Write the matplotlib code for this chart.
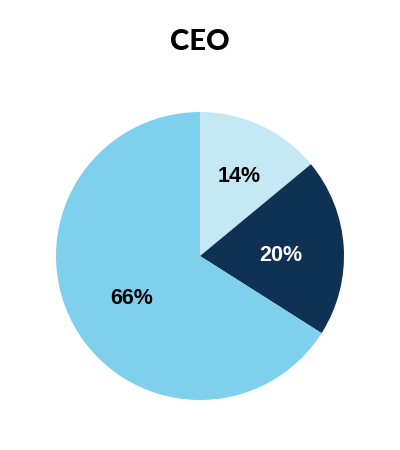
import numpy as np
import matplotlib.pyplot as plt

# CEO share breakdown, clockwise from 12 o'clock
labels = ['14%', '20%', '66%']
values = [14, 20, 66]
colors = ['#c5e8f5', '#0f3254', '#7fd0ec']
label_colors = ['black', 'white', 'black']
label_dist = [0.64, 0.56, 0.545]

fig = plt.figure(figsize=(4, 4.5), dpi=100)
ax = fig.add_axes([0.14, 0.1111, 0.72, 0.64])

wedges, _ = ax.pie(values, colors=colors, startangle=90, counterclock=False,
                   radius=1.0, wedgeprops=dict(linewidth=0))
ax.set_xlim(-1, 1)
ax.set_ylim(-1, 1)
ax.set_aspect('equal')
ax.axis('off')

for w, lab, c, d in zip(wedges, labels, label_colors, label_dist):
    ang = np.deg2rad((w.theta1 + w.theta2) / 2)
    ax.text(d * np.cos(ang), d * np.sin(ang) - 0.03, lab, ha='center',
            va='center', fontsize=15.5, fontweight='bold', color=c,
            family='Liberation Sans')

fig.text(0.5, 0.907, 'CEO', ha='center', va='center', fontsize=21,
         fontweight='black', family='Lato')

fig.savefig('out.png', dpi=100, facecolor='white')
